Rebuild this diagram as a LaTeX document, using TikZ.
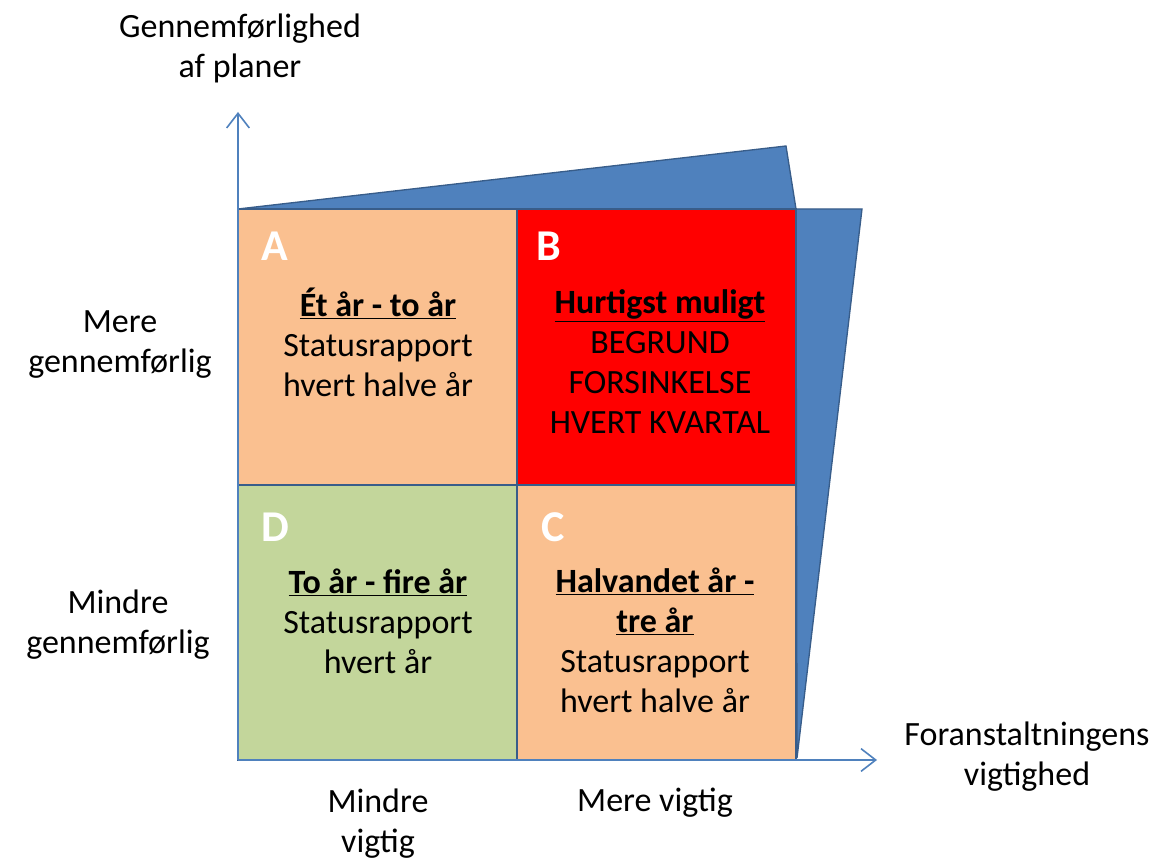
\documentclass[tikz,border=0pt]{standalone}
\usepackage{fontspec}
\setmainfont{Carlito}
\usetikzlibrary{arrows.meta}
\definecolor{axisblue}{HTML}{4F81BD}
\definecolor{edgeblue}{HTML}{385D8A}
\definecolor{peach}{HTML}{FAC090}
\definecolor{leafgreen}{HTML}{C3D69B}
\tikzset{
  cell/.style={draw=edgeblue, line width=1pt},
  wedge/.style={fill=axisblue, draw=edgeblue, line width=1pt, line join=miter},
  axis/.style={draw=axisblue, line width=1.2pt, -{Straight Barb[length=11pt,width=17pt,line width=1.2pt]}},
  label/.style={align=center, font=\fontsize{25.5}{30}\selectfont},
  letter/.style={text=white, font=\fontsize{33}{36}\selectfont\bfseries}
}
\begin{document}
\begin{tikzpicture}[x=0.75pt, y=-0.75pt]
		
		% Frame
		\useasboundingbox[fill=white] (0,0) rectangle (1165,862);
		
		% Draw the wedges
		\draw[wedge] (238,209) -- (786,146) -- (796,209) -- cycle;
		\draw[wedge] (796,209) -- (862,209) -- (797,758) -- cycle;
		
		% Draw the boxes
		\draw[cell, fill=peach] (238,209) rectangle (517,485);
		\draw[cell, fill=red] (517,209) rectangle (796,485);
		\draw[cell, fill=leafgreen] (238,485) rectangle (517,760);
		\draw[cell, fill=peach] (517,485) rectangle (796,760);
		\draw[edgeblue, line width=1.6pt] (238,209) -- (796,209);
		
		% Draw the axes
		\coordinate (origin) at (238,760);
		\coordinate (ytip) at (238,112);
		\coordinate (xtip) at (877,760);
		\draw[axis] (origin) -- (ytip);
		\draw[axis] (origin) -- (xtip);
		
		% Place the letters
		\node[letter] (la) at (275,246) {A};
		\node[letter] (lb) at (549,246) {B};
		\node[letter] (ld) at (275,527) {D};
		\node[letter] (lc) at (553,527) {C};
		
		% Place the cell texts
		\node[label] (ta) at (378,342) {\textbf{\underline{Ét år - to år}}\\Statusrapport\\hvert halve år};
		\node[label] (tb) at (660,362) {\textbf{\underline{Hurtigst muligt}}\\BEGRUND\\FORSINKELSE\\HVERT KVARTAL};
		\node[label] (td) at (378,621) {\textbf{\underline{To år - fire år}}\\Statusrapport\\hvert år};
		\node[label] (tc) at (655,640) {\textbf{\underline{Halvandet år -}}\\\textbf{\underline{tre år}}\\Statusrapport\\hvert halve år};
		
		% Place the axis texts
		\node[label] (yname) at (240,48) {Gennemførlighed\\af planer};
		\node[label] (yhigh) at (120,345) {Mere\\gennemførlig};
		\node[label] (ylow) at (118,625) {Mindre\\gennemførlig};
		\node[label] (xlow) at (378,824) {Mindre\\vigtig};
		\node[label] (xhigh) at (655,803) {Mere vigtig};
		\node[label] (xname) at (1027,757) {Foranstaltningens\\vigtighed};
		
	\end{tikzpicture}
\end{document}
